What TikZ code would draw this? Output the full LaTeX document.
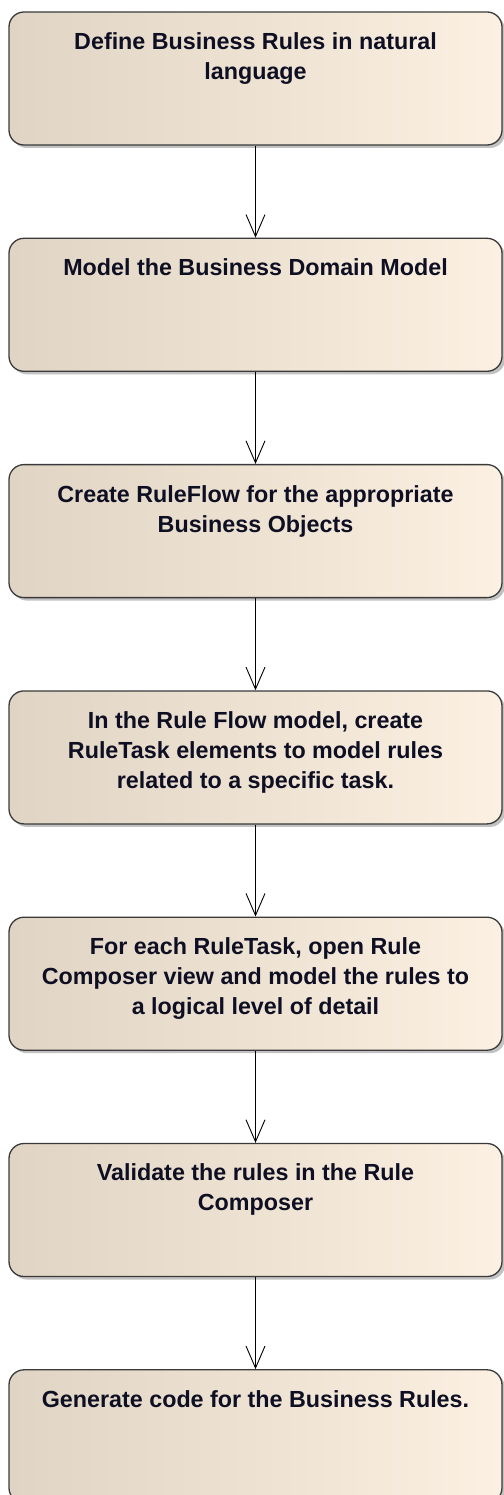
\documentclass[tikz,border=0pt]{standalone}
\usepackage{fontspec}
\setmainfont{Liberation Sans}
\usetikzlibrary{arrows.meta,positioning,shadows}

\definecolor{stepL}{RGB}{224,212,196}
\definecolor{stepR}{RGB}{251,240,225}
\definecolor{stepline}{RGB}{58,58,58}
\definecolor{steptextcol}{RGB}{15,15,35}

\begin{document}
\begin{tikzpicture}[
  stepbox/.style={draw=stepline, line width=1.3pt, rounded corners=15pt,
    minimum width=493pt, minimum height=133pt, inner sep=0pt,
    left color=stepL, middle color=stepR, right color=stepR,
    drop shadow={shadow xshift=3pt, shadow yshift=-3pt, fill=black!40, opacity=0.6}},
  steptext/.style={anchor=north, align=center, inner sep=0pt, yshift=-21pt,
    text=steptextcol, font=\bfseries\fontsize{23.3}{30}\selectfont},
  arr/.style={-{Straight Barb[length=22pt, width=19pt, line width=0.9pt]}, line width=1.5pt, black}
]
\useasboundingbox (0,0) rectangle (503pt,-1495pt);

\node[stepbox, label={[steptext, name=definetext]north:Define Business Rules in natural\\language}]
  at (255.5pt,-78.5pt) (define) {};
\node[stepbox, below=92pt of define,
  label={[steptext, name=domaintext]north:Model the Business Domain Model}] (domain) {};
\node[stepbox, below=92pt of domain,
  label={[steptext, name=flowtext]north:Create RuleFlow for the appropriate\\Business Objects}] (flow) {};
\node[stepbox, below=92pt of flow,
  label={[steptext, name=tasktext]north:In the Rule Flow model, create\\RuleTask elements to model rules\\related to a specific task.}] (task) {};
\node[stepbox, below=92pt of task,
  label={[steptext, name=composetext]north:For each RuleTask, open Rule\\Composer view and model the rules to\\a logical level of detail}] (compose) {};
\node[stepbox, below=92pt of compose,
  label={[steptext, name=validatetext]north:Validate the rules in the Rule\\Composer}] (validate) {};
\node[stepbox, below=92pt of validate,
  label={[steptext, name=generatetext]north:Generate code for the Business Rules.}] (generate) {};

\draw[arr] (define) -- (domain);
\draw[arr] (domain) -- (flow);
\draw[arr] (flow) -- (task);
\draw[arr] (task) -- (compose);
\draw[arr] (compose) -- (validate);
\draw[arr] (validate) -- (generate);

\end{tikzpicture}
\end{document}
